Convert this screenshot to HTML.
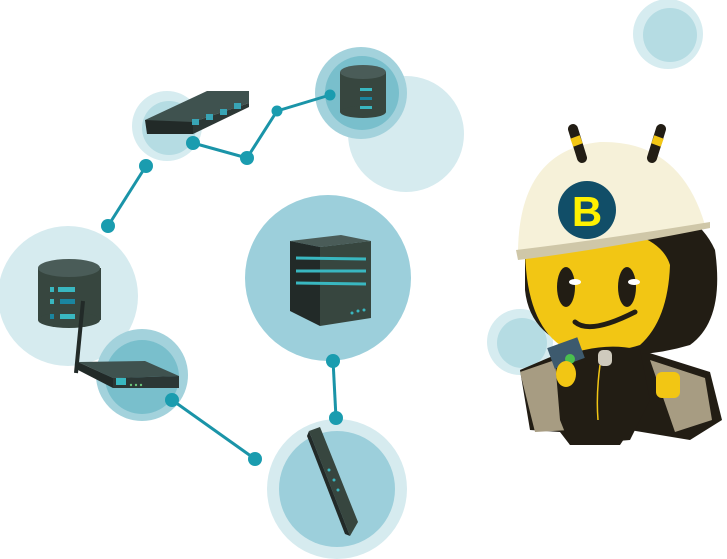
<!DOCTYPE html>
<html><head><style>html,body{margin:0;padding:0;background:#fff;width:727px;height:559px;overflow:hidden}</style></head>
<body>
<svg width="727" height="559" viewBox="0 0 727 559" xmlns="http://www.w3.org/2000/svg">
<circle cx="668" cy="34" r="35" fill="#d6ecf0"/><circle cx="670" cy="35" r="27" fill="#b5dce3"/>
<circle cx="406" cy="134" r="58" fill="#d6ebef"/>
<circle cx="361" cy="93" r="46" fill="#a3d2dc"/><circle cx="362" cy="93" r="37" fill="#79bfcc"/>
<circle cx="167" cy="126" r="35" fill="#d6ecf0"/><circle cx="169" cy="128" r="27" fill="#b5dce3"/>
<circle cx="68" cy="296" r="70" fill="#d6ebef"/>
<circle cx="142" cy="375" r="46" fill="#a3d2dc"/><circle cx="142" cy="377" r="37" fill="#79bfcc"/>
<circle cx="328" cy="278" r="83" fill="#9ccfdb"/>
<circle cx="337" cy="489" r="70" fill="#d6ebef"/><circle cx="337" cy="489" r="58" fill="#9ccfdb"/>
<circle cx="520" cy="342" r="33" fill="#d6ecf0"/><circle cx="522" cy="343" r="25" fill="#b5dce3"/>
<g stroke="#1a94a8" stroke-width="3" fill="none">
<polyline points="108,226 146,166"/>
<polyline points="193,143 247,158 277,111 330,95"/>
<polyline points="172,400 255,459"/>
<polyline points="333,360 336,418"/>
</g>
<g fill="#1a9caf">
<circle cx="108" cy="226" r="7"/><circle cx="146" cy="166" r="7"/>
<circle cx="193" cy="143" r="7"/><circle cx="247" cy="158" r="7"/><circle cx="277" cy="111" r="5.5"/><circle cx="330" cy="95" r="5.5"/>
<circle cx="172" cy="400" r="7"/><circle cx="255" cy="459" r="7"/>
<circle cx="333" cy="361" r="7"/><circle cx="336" cy="418" r="7"/>
</g>
<polygon points="145,120 207,91 249,91 249,103 193,122 150,134" fill="#3f524f"/>
<polygon points="145,120 193,122 193,134 147,134" fill="#222a28"/>
<polygon points="193,122 249,103 249,107 193,134" fill="#2c3735"/>
<g fill="#38a4b5"><rect x="192" y="119" width="7" height="6"/><rect x="206" y="114" width="7" height="6"/><rect x="220" y="109" width="7" height="6"/><rect x="234" y="103" width="7" height="6"/></g>
<g>
<rect x="340" y="72" width="46" height="40" fill="#37463f"/>
<ellipse cx="363" cy="112" rx="23" ry="6" fill="#37463f"/>
<ellipse cx="363" cy="72" rx="23" ry="7" fill="#4a5c58"/>
<rect x="360" y="88" width="12" height="3" fill="#39b7c0"/><rect x="360" y="97" width="12" height="3" fill="#1a85a0"/><rect x="360" y="106" width="12" height="3" fill="#39b7c0"/>
</g>
<g>
<rect x="38" y="268" width="63" height="52" fill="#37463f"/>
<ellipse cx="69" cy="320" rx="31" ry="8" fill="#37463f"/>
<ellipse cx="69" cy="268" rx="31" ry="9" fill="#4a5c58"/>
<rect x="50" y="287" width="4" height="5" fill="#39b7c0"/><rect x="58" y="287" width="17" height="5" fill="#39b7c0"/>
<rect x="50" y="299" width="4" height="5" fill="#39b7c0"/><rect x="60" y="299" width="15" height="5" fill="#1a85a0"/>
<rect x="50" y="314" width="4" height="5" fill="#1a85a0"/><rect x="60" y="314" width="15" height="5" fill="#39b7c0"/>
</g>
<line x1="83" y1="301" x2="76" y2="373" stroke="#222a28" stroke-width="4"/>
<polygon points="78,362 145,361 179,376 113,378" fill="#3f524f"/>
<polygon points="78,362 113,378 113,388 78,370" fill="#222a28"/>
<polygon points="113,378 179,376 179,388 113,388" fill="#2c3735"/>
<rect x="116" y="378" width="10" height="7" fill="#39b7c0"/>
<g fill="#6ac27a"><circle cx="131" cy="385" r="1.2"/><circle cx="136" cy="385" r="1.2"/><circle cx="141" cy="385" r="1.2"/></g>
<polygon points="290,241 341,235 371,241 320,247" fill="#4a5c58"/>
<polygon points="290,241 320,247 320,326 290,311" fill="#222a28"/>
<polygon points="320,247 371,241 371,318 320,326" fill="#37463f"/>
<g stroke="#39b7c0" stroke-width="3"><line x1="296" y1="258" x2="366" y2="259"/><line x1="296" y1="271" x2="366" y2="271"/><line x1="296" y1="283" x2="366" y2="284"/></g>
<g fill="#39b7c0"><circle cx="352" cy="313" r="1.5"/><circle cx="358" cy="311" r="1.5"/><circle cx="364" cy="310" r="1.5"/></g>
<polygon points="309,431 320,427 358,522 350,536" fill="#37463f"/>
<polygon points="309,431 350,536 345,534 307,436" fill="#222a28"/>
<g fill="#39b7c0"><circle cx="329" cy="470" r="1.5"/><circle cx="334" cy="480" r="1.5"/><circle cx="338" cy="490" r="1.5"/></g>
<g>
<path d="M520,370 L555,355 L640,350 L710,372 L722,420 L690,440 L630,430 L620,445 L570,445 L560,432 L530,430 Z" fill="#221d14"/>
<polygon points="520,372 555,360 570,430 535,432" fill="#a79c82"/>
<polygon points="650,360 705,378 712,420 675,432" fill="#a79c82"/>
<path d="M525,240 Q525,180 600,200 Q690,195 715,250 Q725,320 690,345 Q640,360 590,352 Q530,340 525,290 Z" fill="#221d14"/>
<path d="M525,245 Q525,215 590,225 Q660,232 670,265 Q668,320 640,345 Q600,358 560,345 Q525,320 525,245 Z" fill="#f2c614"/>
<ellipse cx="566" cy="287" rx="9" ry="20" fill="#221d14"/>
<ellipse cx="627" cy="287" rx="9" ry="20" fill="#221d14"/>
<ellipse cx="575" cy="282" rx="6" ry="3" fill="#fff"/>
<ellipse cx="634" cy="282" rx="6" ry="3" fill="#fff"/>
<path d="M575,322 Q590,335 635,312" stroke="#221d14" stroke-width="5" fill="none" stroke-linecap="round"/>
<path d="M518,250 Q520,150 600,142 Q680,140 705,225 Q640,240 600,245 Q560,252 518,258 Z" fill="#f6f1d9"/>
<path d="M516,250 Q600,240 710,222 L710,228 Q600,250 518,260 Z" fill="#cfc7a8"/>
<line x1="573" y1="129" x2="582" y2="158" stroke="#221d14" stroke-width="10" stroke-linecap="round"/>
<line x1="661" y1="129" x2="652" y2="158" stroke="#221d14" stroke-width="10" stroke-linecap="round"/>
<line x1="575" y1="137" x2="578" y2="145" stroke="#f2c614" stroke-width="10"/>
<line x1="659" y1="137" x2="656" y2="145" stroke="#f2c614" stroke-width="10"/>
<circle cx="587" cy="210" r="29" fill="#114e68"/>
<text x="587" y="226" text-anchor="middle" font-family="Liberation Sans, sans-serif" font-weight="bold" font-size="42" fill="#fff100">B</text>
<path d="M555,360 Q600,340 640,350 L650,400 L630,440 L570,445 L560,420 Z" fill="#221d14"/>
<path d="M600,365 Q596,395 598,420" stroke="#f2c614" stroke-width="1.5" fill="none"/>
<rect x="598" y="350" width="14" height="16" rx="5" fill="#cfcabd"/>
<rect x="550" y="342" width="32" height="22" fill="#3d5a6e" transform="rotate(-20 566 353)"/>
<circle cx="570" cy="359" r="5" fill="#4ac04e"/>
<ellipse cx="566" cy="374" rx="10" ry="13" fill="#f2c614"/>
<rect x="656" y="372" width="24" height="26" rx="6" fill="#f2c614"/>
</g>
</svg>
</body></html>
